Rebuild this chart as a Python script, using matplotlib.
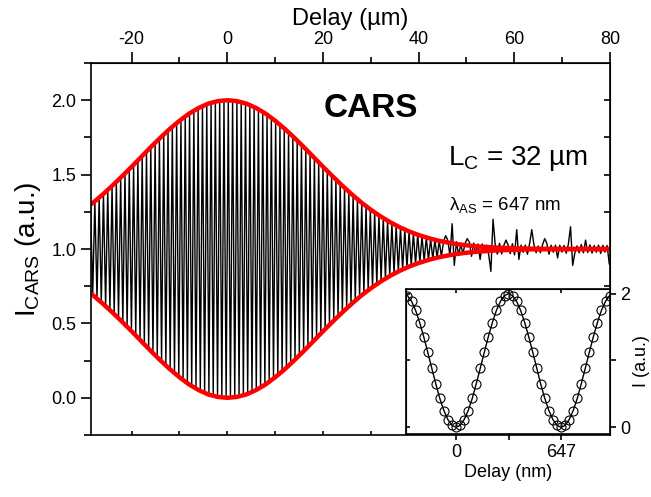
import numpy as np
import matplotlib
matplotlib.use('Agg')
from matplotlib import pyplot as plt
from matplotlib.ticker import MultipleLocator, FixedLocator, NullFormatter, FormatStrFormatter

plt.rcParams['font.family'] = ['Liberation Sans', 'DejaVu Sans']
plt.rcParams['mathtext.fontset'] = 'custom'
plt.rcParams['mathtext.rm'] = 'Liberation Sans'
plt.rcParams['mathtext.it'] = 'Liberation Sans:italic'
plt.rcParams['axes.unicode_minus'] = False

# envelope of the CARS interferogram (red fit), delay in um, amplitude above 1
env_delay = [-30, -28, -26, -24, -22, -20, -18, -16, -14, -12, -10, -8, -6, -4, -2, 0,
             2, 4, 6, 8, 10, 12, 14, 16, 18, 20, 22, 24, 26, 28, 30, 32, 34, 36, 38,
             40, 42, 44, 46, 48, 50, 52, 56, 60, 64, 70, 80]
env_amp = [0.264, 0.313, 0.368, 0.427, 0.489, 0.553, 0.619, 0.685, 0.748, 0.808, 0.862,
           0.910, 0.948, 0.977, 0.994, 1.000, 0.994, 0.977, 0.948, 0.910, 0.862, 0.808,
           0.748, 0.685, 0.619, 0.553, 0.489, 0.427, 0.368, 0.313, 0.264, 0.220, 0.181,
           0.147, 0.118, 0.094, 0.074, 0.057, 0.044, 0.033, 0.025, 0.018, 0.010, 0.005,
           0.002, 0.001, 0.0]

# measured fringe amplitude in the noisy tail (um, a.u.)
tail_delay = [44, 45, 46, 47, 48, 49, 50, 51, 52, 53, 54, 55, 56, 57, 58, 59, 60, 61, 62,
              63, 64, 65, 66, 67, 68, 69, 70, 71, 72, 73, 74, 75, 76, 77, 78, 79, 80]
tail_amp = [0.06, 0.05, 0.06, 0.04, 0.05, 0.03, 0.04, 0.05, 0.03, 0.04, 0.02, 0.05, 0.03,
            0.04, 0.02, 0.03, 0.04, 0.03, 0.02, 0.04, 0.03, 0.02, 0.03, 0.04, 0.02, 0.03,
            0.02, 0.03, 0.04, 0.02, 0.03, 0.02, 0.03, 0.02, 0.03, 0.02, 0.03]

# isolated noise spikes in the tail (um, a.u.)
spike_delay = [45.5, 47.1, 47.4, 50.3, 53.0, 55.2, 55.4, 58.2, 60.6, 61.0, 63.8, 66.5,
               69.0, 71.9, 72.2, 75.0, 79.8]
spike_val = [1.09, 1.17, 0.89, 1.07, 0.93, 0.85, 1.20, 1.06, 1.13, 0.93, 1.13, 1.07,
             0.94, 1.15, 0.89, 1.06, 0.90]

fringe_half = 0.45  # apparent spacing of the sampled fringes (um)

top_ticks = [-20, 0, 20, 40, 60, 80]

# inset: single interferogram fringes, delay in nm
inset_delay = [-299, -274, -249, -224, -199, -174, -149, -124, -100, -75, -50, -25,
               0, 25, 50, 75, 100, 124, 149, 174, 199, 224, 249, 274, 299, 323, 348,
               373, 398, 423, 448, 473, 498, 522, 547, 572, 597, 622, 647, 672, 697,
               722, 747, 771, 796, 821, 846, 871, 896, 921, 946]
inset_signal = [1.971, 1.885, 1.749, 1.568, 1.355, 1.120, 0.880, 0.645, 0.432, 0.251,
                0.115, 0.029,
                0.0, 0.029, 0.115, 0.251, 0.432, 0.645, 0.880, 1.120, 1.355, 1.568,
                1.749, 1.885, 1.971, 2.0, 1.971, 1.885, 1.749, 1.568, 1.355, 1.120,
                0.880, 0.645, 0.432, 0.251, 0.115, 0.029,
                0.0, 0.029, 0.115, 0.251, 0.432, 0.645, 0.880, 1.120, 1.355, 1.568,
                1.749, 1.885, 1.971]

# build the sampled trace from the read envelope
x = np.arange(-28.6, 80.2, fringe_half)
amp = np.interp(x, env_delay, env_amp)
amp = np.maximum(amp, np.interp(x, tail_delay, tail_amp, left=0, right=0.03))
sign = np.where(np.arange(len(x)) % 2 == 0, 1.0, -1.0)
y = 1 + sign * amp
for d, v in zip(spike_delay, spike_val):
    y[np.argmin(np.abs(x - d))] = v

fig = plt.figure(figsize=(6.51, 4.97), dpi=100)
ax = fig.add_axes([0.1398, 0.1247, 0.7972, 0.7485])
ax.plot(x, y, color='black', lw=1.0)
ed = np.array(env_delay)
ea = np.array(env_amp)
ax.plot(ed, 1 + ea, color='#ff0000', lw=3.2, solid_capstyle='butt')
ax.plot(ed, 1 - ea, color='#ff0000', lw=3.2, solid_capstyle='butt')
ax.set_xlim(-28.5, 80)
ax.set_ylim(-0.25, 2.25)
for s in ax.spines.values():
    s.set_linewidth(1.2)

# left axis: outward ticks with labels
ax.yaxis.set_major_locator(MultipleLocator(0.5))
ax.yaxis.set_minor_locator(MultipleLocator(0.25))
ax.tick_params(axis='y', which='major', direction='out', length=7, width=1.2, labelsize=13)
ax.tick_params(axis='y', which='minor', direction='out', length=5, width=1.2)
ax.yaxis.set_major_formatter(FormatStrFormatter('%.1f'))
ax.set_ylabel(r'I$_{\mathrm{CARS}}$ (a.u.)', fontsize=20, labelpad=6)

# bottom axis: small inward ticks only
ax.xaxis.set_major_locator(FixedLocator([-20, -10, 0, 10, 20, 30, 40, 50, 60, 70]))
ax.xaxis.set_major_formatter(NullFormatter())
ax.tick_params(axis='x', which='major', direction='in', length=3, width=1.2)

top = ax.secondary_xaxis('top')
top.xaxis.set_major_locator(FixedLocator(top_ticks))
top.xaxis.set_minor_locator(FixedLocator([-10, 10, 30, 50, 70]))
top.tick_params(which='major', direction='out', length=8, width=1.2, labelsize=13, pad=3)
top.tick_params(which='minor', direction='out', length=4, width=1.2)
top.set_xlabel('Delay (µm)', fontsize=17, labelpad=4)

right = ax.secondary_yaxis('right')
right.yaxis.set_major_locator(FixedLocator([0, 0.25, 0.5, 0.75, 1.0, 1.25, 1.5, 1.75, 2.0]))
right.yaxis.set_major_formatter(NullFormatter())
right.tick_params(direction='in', length=4, width=1.2)

ax.text(20.1, 1.886, 'CARS', fontsize=24, fontweight='bold', ha='left', va='baseline')
ax.text(46.1, 1.564, r'L$_{\mathrm{C}}$ = 32 µm', fontsize=20, ha='left', va='baseline')
ax.text(46.3, 1.262, r'λ$_{\mathrm{AS}}$ = 647 nm', fontsize=13.5, ha='left', va='baseline')

# inset
ins = fig.add_axes([0.6237, 0.1268, 0.3134, 0.2918])
ins.plot(inset_delay, inset_signal, color='black', lw=1.0)
ins.plot(inset_delay, inset_signal, 'o', ms=6.5, mfc='none', mec='black', mew=0.8)
ins.set_xlim(-308, 949)
ins.set_ylim(-0.1, 2.07)
for s in ins.spines.values():
    s.set_linewidth(1.2)
ins.xaxis.set_major_locator(FixedLocator([0, 647]))
ins.xaxis.set_minor_locator(FixedLocator([323.5]))
ins.tick_params(axis='x', which='both', direction='out', length=4, width=1.2, labelsize=13)
ins.set_xlabel('Delay (nm)', fontsize=13, labelpad=2)
ins.yaxis.tick_right()
ins.yaxis.set_label_position('right')
ins.yaxis.set_major_locator(FixedLocator([0, 2]))
ins.yaxis.set_minor_locator(FixedLocator([1]))
ins.tick_params(axis='y', which='both', direction='out', length=4, width=1.2, labelsize=13)
ins.set_ylabel('I (a.u.)', fontsize=13, labelpad=2)
itop = ins.secondary_xaxis('top')
itop.xaxis.set_major_locator(FixedLocator([0, 323.5, 647]))
itop.xaxis.set_major_formatter(NullFormatter())
itop.tick_params(direction='in', length=3, width=1.2)
ileft = ins.secondary_yaxis('left')
ileft.yaxis.set_major_locator(FixedLocator([0, 1, 2]))
ileft.yaxis.set_major_formatter(NullFormatter())
ileft.tick_params(direction='in', length=3, width=1.2)

fig.savefig('out.png', dpi=100)
